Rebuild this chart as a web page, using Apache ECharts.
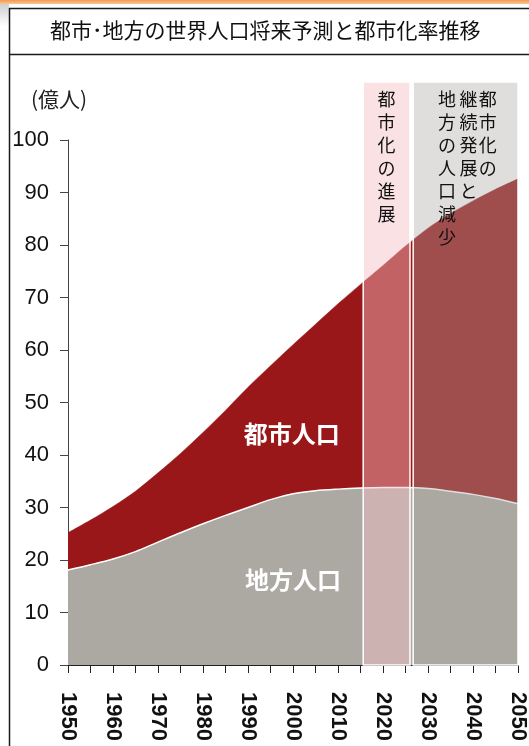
<!DOCTYPE html>
<html><head><meta charset="utf-8">
<script src="https://cdn.jsdelivr.net/npm/echarts@6/dist/echarts.min.js"></script>
<style>html,body{margin:0;padding:0;background:#fff}#c{width:529px;height:746px}</style>
</head><body><div id="c"></div>
<script>
// ---- data ----
const years = ['1950','1955','1960','1965','1970','1975','1980','1985','1990','1995','2000','2005','2010','2015','2020','2025','2030','2035','2040','2045','2050'];
const ruralPop = [18.1,19.1,20.2,21.6,23.4,25.2,26.9,28.5,30.0,31.5,32.6,33.2,33.5,33.7,33.8,33.8,33.6,33.1,32.5,31.7,30.7];
const urbanPop = [7.1,8.5,10.0,11.5,13.2,15.1,17.4,20.0,22.9,25.5,28.4,31.7,35.3,38.8,42.3,46.0,49.6,52.9,55.9,58.9,61.9];
const titleText = '都市･地方の世界人口将来予測と都市化率推移';
const unitText = '(億人)';
const urbanLabel = '都市人口';
const ruralLabel = '地方人口';
const band1Range = [2015.6, 2026.0];
const band2Range = [2026.7, 2051.0];
const band1Text = '都市化の進展';
const band2Cols = ['都市化の', '継続発展と', '地方の人口減少'];

const CJK = '"Noto Sans CJK JP","Noto Sans CJK SC",sans-serif';
const LAT = '"Liberation Sans",Arial,sans-serif';
const vert = s => s.split('').join('\n');

const chart = echarts.init(document.getElementById('c'), null, {renderer: 'canvas'});

const vText = (txt, x, y) => ({
  name: vert(txt), coord: [x, y], symbol: 'circle', symbolSize: 0,
  label: {show: true, position: 'bottom', distance: 0, formatter: p => p.name,
          fontFamily: CJK, fontSize: 18, lineHeight: 23, color: '#111', align: 'center'}
});
const bigText = (txt, x, y) => ({
  name: txt, coord: [x, y], symbol: 'circle', symbolSize: 0,
  label: {show: true, position: 'inside', formatter: p => p.name,
          fontFamily: CJK, fontSize: 24, fontWeight: 'bold', color: '#ffffff'}
});

const G = {left: 68, right: 11, bottom: 81};
chart.setOption({
  animation: false,
  backgroundColor: '#ffffff',
  title: {
    text: titleText, left: 50, top: 20, padding: 0,
    textStyle: {fontFamily: CJK, fontSize: 21, fontWeight: 'normal', color: '#111'}
  },
  grid: [
    Object.assign({top: 140}, G),   // main plot, 0..100
    Object.assign({top: 82}, G)     // overlay for the shaded periods, 0..111
  ],
  xAxis: [
    {
      type: 'category', data: years, boundaryGap: false, gridIndex: 0,
      axisLine: {lineStyle: {color: '#222', width: 1}},
      axisTick: {length: 8, interval: 0, lineStyle: {color: '#222'}},
      splitLine: {show: false},
      axisLabel: {interval: 1, rotate: -90, margin: 27, fontFamily: LAT, fontSize: 22, fontWeight: 'bold', color: '#111'}
    },
    {type: 'value', min: 1950, max: 2050, gridIndex: 1, show: false}
  ],
  yAxis: [
    {
      type: 'value', min: 0, max: 100, interval: 10, gridIndex: 0,
      axisLine: {show: true, lineStyle: {color: '#444', width: 1}},
      axisTick: {show: true, length: 8, lineStyle: {color: '#444'}},
      axisLabel: {margin: 19, fontFamily: LAT, fontSize: 22, color: '#111'},
      splitLine: {show: false}
    },
    {type: 'value', min: 0, max: 111, gridIndex: 1, show: false}
  ],
  graphic: [
    {type: 'rect', shape: {x: 0, y: 0, width: 529, height: 4},
     style: {fill: new echarts.graphic.LinearGradient(0, 0, 0, 1, [{offset: 0, color: '#f29a50'}, {offset: 1, color: '#f8c896'}])}},
    {type: 'rect', shape: {x: 0, y: 4, width: 9, height: 22},
     style: {fill: new echarts.graphic.LinearGradient(0, 0, 0, 1, [{offset: 0, color: '#cfcfcf'}, {offset: 1, color: '#ffffff'}])}},
    {type: 'line', shape: {x1: 9.5, y1: 8, x2: 9.5, y2: 746}, style: {stroke: '#1a1a1a', lineWidth: 1.5}},
    {type: 'line', shape: {x1: 9, y1: 8.5, x2: 529, y2: 8.5}, style: {stroke: '#1a1a1a', lineWidth: 1.5}},
    {type: 'line', shape: {x1: 9, y1: 54.5, x2: 529, y2: 54.5}, style: {stroke: '#1a1a1a', lineWidth: 1.5}},
    {type: 'text', left: 31, top: 89,
     style: {text: unitText, font: '21px ' + CJK, fill: '#222'}}
  ],
  series: [
    {
      name: '地方人口', type: 'line', stack: 'pop', smooth: 0.3, symbol: 'none',
      xAxisIndex: 0, yAxisIndex: 0,
      lineStyle: {color: '#ffffff', width: 1.5},
      areaStyle: {color: '#aca9a2', opacity: 1},
      data: ruralPop
    },
    {
      name: '都市人口', type: 'line', stack: 'pop', smooth: 0.3, symbol: 'none',
      xAxisIndex: 0, yAxisIndex: 0,
      lineStyle: {color: '#9a1719', width: 0.5},
      areaStyle: {color: '#9a1719', opacity: 1},
      data: urbanPop
    },
    {
      name: 'bands', type: 'line', data: [], symbol: 'none', z: 6,
      xAxisIndex: 1, yAxisIndex: 1,
      markArea: {
        silent: true, z: 6,
        data: [
          [{xAxis: band1Range[0], yAxis: 0, itemStyle: {color: 'rgba(245,190,195,0.45)', borderColor: '#fff', borderWidth: 1.5}},
           {xAxis: band1Range[1], yAxis: 111}],
          [{xAxis: band2Range[0], yAxis: 0, itemStyle: {color: 'rgba(172,169,162,0.38)', borderColor: '#fff', borderWidth: 1.5}},
           {xAxis: band2Range[1], yAxis: 111}]
        ]
      },
      markPoint: {
        silent: true, z: 8,
        data: [
          bigText(urbanLabel, 1999.7, 44.0),
          bigText(ruralLabel, 2000.0, 16.2),
          vText(band1Text, 2020.8, 110.0),
          vText(band2Cols[0], 2043.3, 110.0),
          vText(band2Cols[1], 2039.0, 110.0),
          vText(band2Cols[2], 2034.2, 110.0)
        ]
      }
    }
  ]
});
</script>
</body></html>
